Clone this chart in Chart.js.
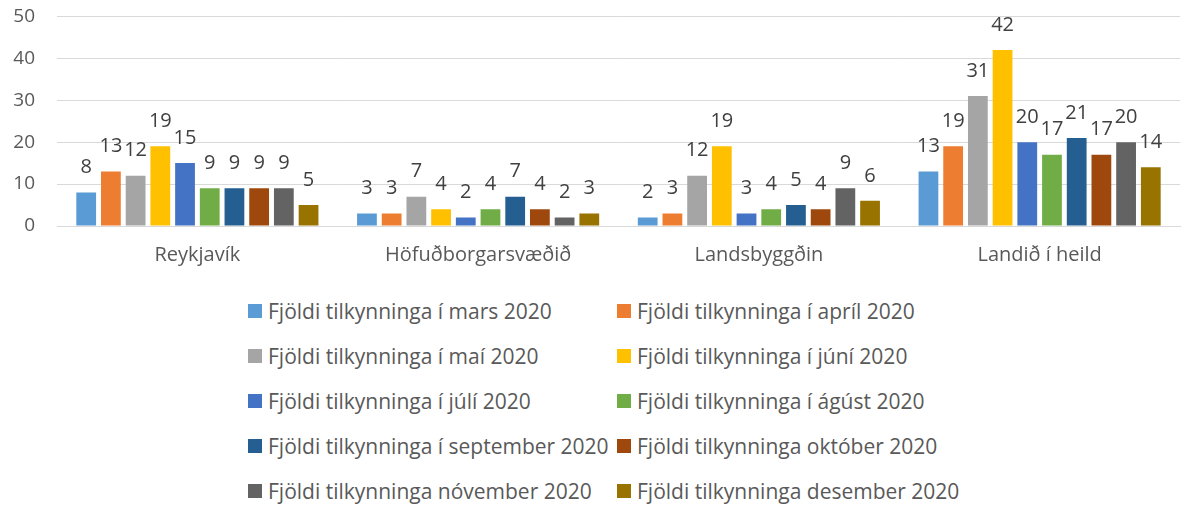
<!DOCTYPE html>
<html>
<head>
<meta charset="utf-8">
<script src="https://cdn.jsdelivr.net/npm/chart.js@4.4.1/dist/chart.umd.min.js"></script>
<style>
    html, body { margin: 0; padding: 0; background: #fff; overflow: hidden; }
    #wrap { position: relative; width: 1189px; height: 505px; overflow: hidden; }
    #chartBox { position: absolute; left: 0; top: -17px; width: 1189px; height: 293px; }
    #legend {
        position: absolute; left: 248px; top: 296px;
        display: grid; grid-template-columns: 369px 360px;
        grid-auto-rows: 45px;
        font-family: "Open Sans", sans-serif; font-size: 21px; color: #595959;
    }
    .item { display: flex; align-items: center; height: 30px; white-space: nowrap; }
    .box { width: 14px; height: 14px; margin-right: 6px; flex: none; }
</style>
</head>
<body>
<div id="wrap">
    <div id="chartBox"><canvas id="reportChart"></canvas></div>
    <div id="legend"></div>
</div>
<script>
// Tilkynningar eftir svæðum og mánuðum 2020

const categories = ['Reykjavík', 'Höfuðborgarsvæðið', 'Landsbyggðin', 'Landið í heild'];
const yTicks = [0, 10, 20, 30, 40, 50];

const seriesNames = [
    'Fjöldi tilkynninga í mars 2020',
    'Fjöldi tilkynninga í apríl 2020',
    'Fjöldi tilkynninga í maí 2020',
    'Fjöldi tilkynninga í júní 2020',
    'Fjöldi tilkynninga í júlí 2020',
    'Fjöldi tilkynninga í ágúst 2020',
    'Fjöldi tilkynninga í september 2020',
    'Fjöldi tilkynninga október 2020',
    'Fjöldi tilkynninga nóvember 2020',
    'Fjöldi tilkynninga desember 2020'
];

const mars = [8, 3, 2, 13];
const april = [13, 3, 3, 19];
const mai = [12, 7, 12, 31];
const juni = [19, 4, 19, 42];
const juli = [15, 2, 3, 20];
const agust = [9, 4, 4, 17];
const september = [9, 7, 5, 21];
const oktober = [9, 4, 4, 17];
const november = [9, 2, 9, 20];
const desember = [5, 3, 6, 14];

const seriesValues = [mars, april, mai, juni, juli, agust, september, oktober, november, desember];
const seriesColors = ['#5B9BD5', '#ED7D31', '#A5A5A5', '#FFC000', '#4472C4',
                      '#70AD47', '#255E91', '#9E480E', '#636363', '#997300'];

const FONT = '"Open Sans", sans-serif';
const TEXT = '#595959';

// value labels above each bar
const barLabels = {
    id: 'barLabels',
    afterDatasetsDraw(chart) {
        const ctx = chart.ctx;
        ctx.save();
        ctx.font = '20px ' + FONT;
        ctx.fillStyle = '#404040';
        ctx.textAlign = 'center';
        ctx.textBaseline = 'middle';
        chart.data.datasets.forEach((ds, i) => {
            chart.getDatasetMeta(i).data.forEach((bar, j) => {
                ctx.fillText(ds.data[j], bar.x, bar.y - 25);
            });
        });
        ctx.restore();
    }
};

document.addEventListener('DOMContentLoaded', function() {
    const datasets = seriesNames.map((name, i) => ({
        label: name,
        data: seriesValues[i],
        backgroundColor: seriesColors[i],
        barPercentage: 0.8,
        categoryPercentage: 0.88
    }));

    new Chart(document.getElementById('reportChart'), {
        type: 'bar',
        data: { labels: categories, datasets: datasets },
        options: {
            responsive: true,
            maintainAspectRatio: false,
            animation: false,
            layout: { padding: { top: 0, right: 9, left: 0, bottom: 0 } },
            plugins: {
                legend: { display: false },
                tooltip: { enabled: false }
            },
            scales: {
                x: {
                    grid: { display: false },
                    border: { display: true, color: '#d9d9d9', width: 1 },
                    ticks: { color: TEXT, font: { family: FONT, size: 20 }, padding: 9 }
                },
                y: {
                    min: yTicks[0],
                    max: yTicks[yTicks.length - 1],
                    afterFit(scale) { scale.width = 57; },
                    afterBuildTicks(scale) { scale.ticks = yTicks.map(v => ({ value: v })); },
                    grid: { color: '#d9d9d9', lineWidth: 1, drawTicks: false },
                    border: { display: false },
                    ticks: { color: TEXT, font: { family: FONT, size: 19 }, padding: 22 }
                }
            }
        },
        plugins: [barLabels]
    });

    // legend in two columns like the original
    const legend = document.getElementById('legend');
    seriesNames.forEach((name, i) => {
        const item = document.createElement('div');
        item.className = 'item';
        const box = document.createElement('span');
        box.className = 'box';
        box.style.background = seriesColors[i];
        const label = document.createElement('span');
        label.textContent = name;
        item.appendChild(box);
        item.appendChild(label);
        legend.appendChild(item);
    });
});
</script>
</body>
</html>
